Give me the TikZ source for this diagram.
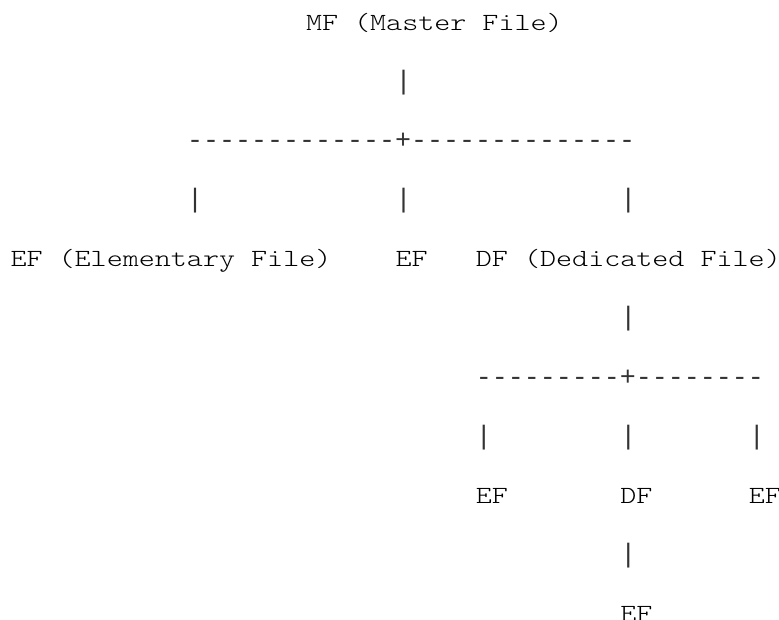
\documentclass[tikz,border=0pt]{standalone}
\usepackage{fontspec}
\newfontfamily\asciimono[FakeStretch=1.239]{lmmonolt10-regular.otf}
\newfontfamily\asciisym{Liberation Mono}
\begin{document}
\begin{tikzpicture}[x=0.75pt,y=-0.75pt,
  txt/.style={anchor=base west,inner sep=0pt,outer sep=0pt,text=black,
    font=\asciimono\fontsize{18.5}{18.5}\selectfont},
  sym/.style={anchor=base west,inner sep=0pt,outer sep=0pt,text=black!80,
    font=\asciisym\fontsize{20}{20}\selectfont}]
\useasboundingbox (0,0) rectangle (779,620);
\def\cw{16.05}
\def\cx{10.5}
\def\ly{59.1}
\def\ty{30.5}
% row 0
\node[txt] (mf) at (306,{\ty}) {MF (Master File)};
% row 1
\node[sym] (p1) at ({\cx+\cw*24},{\ty+\ly*1}) {|};
% row 2
\node[sym] (h1) at ({\cx+\cw*11},{\ty+\ly*2}) {-------------+--------------};
% row 3
\node[sym] (p2a) at ({\cx+\cw*11},{\ty+\ly*3}) {|};
\node[sym] (p2b) at ({\cx+\cw*24},{\ty+\ly*3}) {|};
\node[sym] (p2c) at ({\cx+\cw*38},{\ty+\ly*3}) {|};
% row 4
\node[txt] (ef1) at ({\cx+\cw*0},{\ty+\ly*4}) {EF (Elementary File)};
\node[txt] (ef2) at ({\cx+\cw*24},{\ty+\ly*4}) {EF};
\node[txt] (df1) at ({\cx+\cw*29},{\ty+\ly*4}) {DF (Dedicated File)};
% row 5
\node[sym] (p3) at ({\cx+\cw*38},{\ty+\ly*5}) {|};
% row 6
\node[sym] (h2) at ({\cx+\cw*29},{\ty+\ly*6}) {---------+--------};
% row 7
\node[sym] (p4a) at ({\cx+\cw*29},{\ty+\ly*7}) {|};
\node[sym] (p4b) at ({\cx+\cw*38},{\ty+\ly*7}) {|};
\node[sym] (p4c) at ({\cx+\cw*46},{\ty+\ly*7}) {|};
% row 8
\node[txt] (ef3) at ({\cx+\cw*29},{\ty+\ly*8}) {EF};
\node[txt] (df2) at ({\cx+\cw*38},{\ty+\ly*8}) {DF};
\node[txt] (ef4) at ({\cx+\cw*46},{\ty+\ly*8}) {EF};
% row 9
\node[sym] (p5) at ({\cx+\cw*38},{\ty+\ly*9}) {|};
% row 10
\node[txt] (ef5) at ({\cx+\cw*38},{\ty+\ly*10}) {EF};
\end{tikzpicture}
\end{document}
